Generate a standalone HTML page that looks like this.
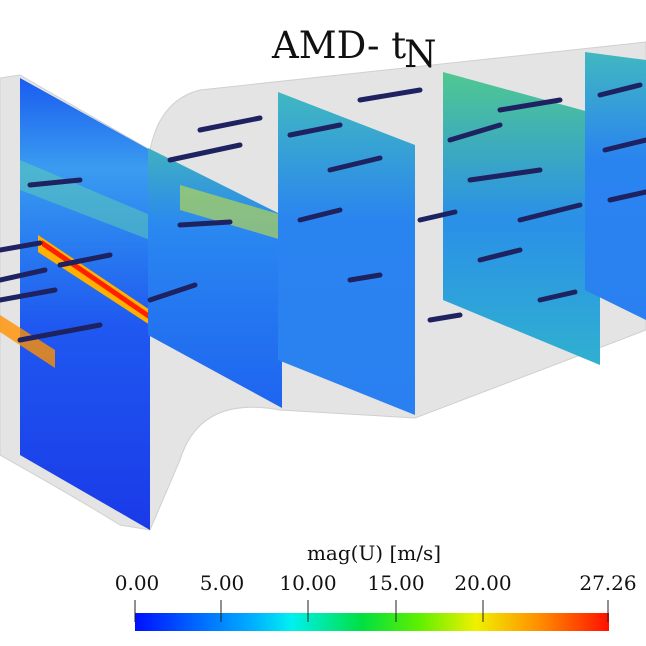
<!DOCTYPE html>
<html><head><meta charset="utf-8">
<style>
body{margin:0;background:#fff;}
svg{display:block;}
text{font-family:"DejaVu Serif","Liberation Serif",serif;fill:#111;}
</style></head><body>
<svg width="646" height="646" viewBox="0 0 646 646" xmlns="http://www.w3.org/2000/svg">
<defs>
<linearGradient id="cb" x1="0" x2="1" y1="0" y2="0">
<stop offset="0" stop-color="#0010ff"/>
<stop offset="0.12" stop-color="#0060ff"/>
<stop offset="0.25" stop-color="#00b0ff"/>
<stop offset="0.33" stop-color="#00f0f0"/>
<stop offset="0.48" stop-color="#00e040"/>
<stop offset="0.6" stop-color="#60f000"/>
<stop offset="0.72" stop-color="#f0f000"/>
<stop offset="0.85" stop-color="#ff9000"/>
<stop offset="1" stop-color="#ff1000"/>
</linearGradient>
<linearGradient id="p1" x1="0" y1="0" x2="0" y2="1">
<stop offset="0" stop-color="#1a5cf0"/>
<stop offset="0.2" stop-color="#3a9cf0"/>
<stop offset="0.35" stop-color="#2a80f0"/>
<stop offset="0.55" stop-color="#1f58f0"/>
<stop offset="1" stop-color="#1a3ae8"/>
</linearGradient>
<linearGradient id="p2" x1="0" y1="0" x2="0" y2="1">
<stop offset="0" stop-color="#40b0c0"/>
<stop offset="0.3" stop-color="#2a88f0"/>
<stop offset="1" stop-color="#1e64f0"/>
</linearGradient>
<linearGradient id="p3" x1="0" y1="0" x2="0" y2="1">
<stop offset="0" stop-color="#40b8c0"/>
<stop offset="0.4" stop-color="#2a84f0"/>
<stop offset="1" stop-color="#2a80f0"/>
</linearGradient>
<linearGradient id="p4" x1="0" y1="0" x2="0" y2="1">
<stop offset="0" stop-color="#50c890"/>
<stop offset="0.5" stop-color="#2a90e8"/>
<stop offset="1" stop-color="#30b0d0"/>
</linearGradient>
</defs>
<path d="M0,78 L20,75 L150,150 Q160,100 200,90 L646,42 L646,330 L415,418 L280,410 Q200,395 180,460 L150,530 L120,525 Q80,500 0,455 Z" fill="#e4e4e4" stroke="#d0d0d0"/>
<polygon points="20,78 150,150 150,530 20,455" fill="url(#p1)"/>
<polygon points="20,160 150,215 150,240 20,190" fill="#60d0b0" opacity="0.5"/>
<polygon points="38,235 150,310 150,325 38,252" fill="#ffb000"/>
<polygon points="42,240 150,314 150,320 42,246" fill="#ff2000"/>
<polygon points="0,315 55,350 55,368 0,332" fill="#ff9000" opacity="0.8"/>
<polygon points="148,148 282,215 282,408 148,335" fill="url(#p2)"/>
<polygon points="180,185 282,215 282,240 180,210" fill="#c8e040" opacity="0.6"/>
<polygon points="278,92 415,145 415,415 278,360" fill="url(#p3)"/>
<polygon points="443,72 600,115 600,365 443,300" fill="url(#p4)"/>
<polygon points="585,52 646,60 646,320 585,290" fill="url(#p3)"/>
<g stroke="#1e2260" stroke-width="5" stroke-linecap="round" fill="#1e2260">
<line x1="0" y1="250" x2="40" y2="243"/><line x1="0" y1="280" x2="45" y2="270"/>
<line x1="0" y1="300" x2="55" y2="290"/><line x1="20" y1="340" x2="100" y2="325"/>
<line x1="150" y1="300" x2="195" y2="285"/><line x1="60" y1="265" x2="110" y2="255"/>
<line x1="170" y1="160" x2="240" y2="145"/><line x1="200" y1="130" x2="260" y2="118"/>
<line x1="180" y1="225" x2="230" y2="222"/><line x1="290" y1="135" x2="340" y2="125"/>
<line x1="330" y1="170" x2="380" y2="158"/><line x1="360" y1="100" x2="420" y2="90"/>
<line x1="450" y1="140" x2="500" y2="125"/><line x1="470" y1="180" x2="540" y2="170"/>
<line x1="500" y1="110" x2="560" y2="100"/><line x1="520" y1="220" x2="580" y2="205"/>
<line x1="600" y1="95" x2="640" y2="85"/><line x1="605" y1="150" x2="646" y2="140"/>
<line x1="610" y1="200" x2="646" y2="192"/><line x1="300" y1="220" x2="340" y2="210"/>
<line x1="480" y1="260" x2="520" y2="250"/><line x1="430" y1="320" x2="460" y2="315"/>
<line x1="350" y1="280" x2="380" y2="275"/><line x1="30" y1="185" x2="80" y2="180"/>
<line x1="420" y1="220" x2="455" y2="212"/><line x1="540" y1="300" x2="575" y2="292"/>
</g>
<text x="272" y="58" font-size="37">AMD- t<tspan font-size="37" dy="9" dx="-2">N</tspan></text>
<text x="374" y="560" font-size="20" text-anchor="middle">mag(U) [m/s]</text>
<g font-size="20" text-anchor="middle">
<text x="137" y="590">0.00</text><text x="222" y="590">5.00</text>
<text x="308" y="590">10.00</text><text x="396" y="590">15.00</text>
<text x="483" y="590">20.00</text><text x="608" y="590">27.26</text>
</g>
<rect x="135" y="613" width="474" height="18" fill="url(#cb)"/>
<g stroke="#222" stroke-width="1">
<line x1="135" y1="600" x2="135" y2="622"/><line x1="221" y1="600" x2="221" y2="622"/>
<line x1="308" y1="600" x2="308" y2="622"/><line x1="396" y1="600" x2="396" y2="622"/>
<line x1="483" y1="600" x2="483" y2="622"/><line x1="608" y1="600" x2="608" y2="622"/>
</g>
</svg>
</body></html>
